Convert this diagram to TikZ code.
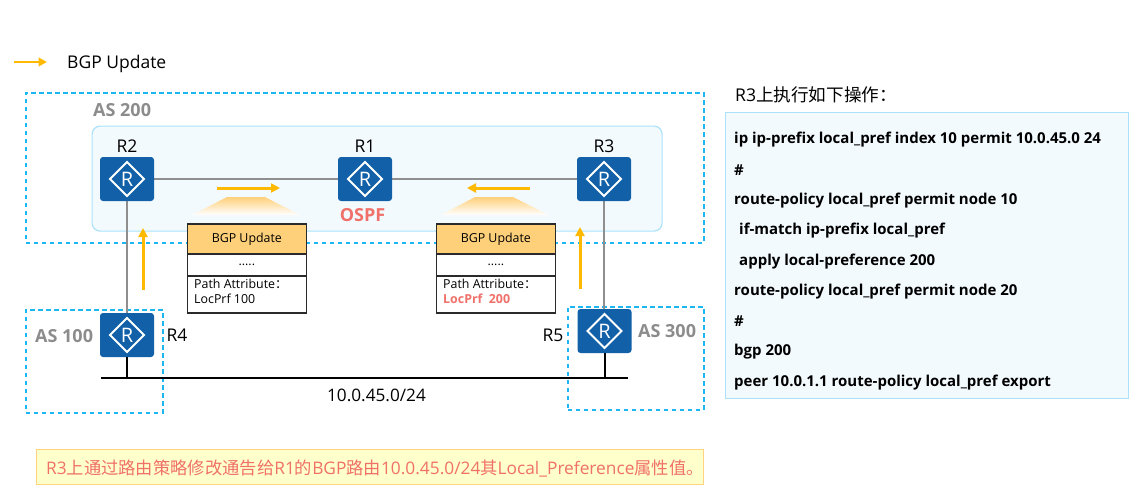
\documentclass[tikz,border=0pt]{standalone}
\usepackage{fontspec}
\setmainfont{Open Sans}
\newfontfamily\cjk{Noto Sans CJK SC}
\usetikzlibrary{arrows.meta}
\definecolor{routerblue}{HTML}{1160A8}
\definecolor{dashblue}{HTML}{1CB6F2}
\definecolor{panelfill}{HTML}{F3FAFE}
\definecolor{panelline}{HTML}{ABE2FA}
\definecolor{linkgrey}{HTML}{8F8F8F}
\definecolor{asgrey}{HTML}{8C8C8C}
\definecolor{flow}{HTML}{FFB900}
\definecolor{alert}{HTML}{F0706A}
\definecolor{header}{HTML}{FFD07A}
\definecolor{framedark}{HTML}{2A2A2A}
\definecolor{notefill}{HTML}{FFFFCC}
\definecolor{noteline}{HTML}{FFD27F}
\newcommand{\px}[1]{\fontsize{#1}{#1}\selectfont}
\tikzset{
  x=1pt,y=-1pt,
  router/.style={rectangle,rounded corners=3pt,fill=routerblue,minimum width=54pt,minimum height=44pt,inner sep=0pt,text=white,font=\px{20},
    path picture={\draw[white,line width=2.1pt,sharp corners,miter limit=10] ([xshift=-17pt]path picture bounding box.center) -- ([yshift=17pt]path picture bounding box.center) -- ([xshift=17pt]path picture bounding box.center) -- ([yshift=-17pt]path picture bounding box.center) -- cycle;}},
  tag/.style={inner sep=0pt,font=\px{17.5},yshift=-1pt},
  aslabel/.style={inner sep=0pt,font=\px{18}\bfseries,text=asgrey},
  asframe/.style={draw=dashblue,line width=1.5pt,dash pattern=on 4.5pt off 3.5pt},
  link/.style={draw=linkgrey,line width=2pt},
  stub/.style={draw=black,line width=2pt},
  flowarrow/.style={draw=flow,line width=3pt,-{Triangle[length=9pt,width=9pt]}},
  fieldbox/.style={draw=framedark,line width=1.7pt,minimum width=119pt,inner sep=0pt,font=\px{12.4},anchor=north west},
  cmd/.style={anchor=west,inner sep=0pt,font=\px{15}\bfseries,yshift=-1.5pt},
  beam/.style={top color=header,bottom color=white,draw=none},
}
\begin{document}
\begin{tikzpicture}
\useasboundingbox (0,0) rectangle (1144,499);
% legend
\coordinate (legA) at (14,62); \coordinate (legB) at (47,62);
\draw[flowarrow,line width=2.6pt,-{Triangle[length=8.5pt,width=8.5pt]}] (legA) -- (legB);
\node[tag,anchor=west] (legend) at (67,62.5) {BGP Update};

% autonomous systems
\node[asframe,minimum width=678pt,minimum height=150pt,inner sep=0pt,anchor=north west] (as200) at (25,92) {};
\node[asframe,minimum width=137pt,minimum height=103pt,inner sep=0pt,anchor=north west] (as100) at (25,309) {};
\node[asframe,minimum width=136pt,minimum height=103pt,inner sep=0pt,anchor=north west] (as300) at (567,306) {};
\node[draw=panelline,fill=panelfill,line width=1.2pt,rounded corners=8pt,minimum width=570pt,minimum height=105pt,inner sep=0pt,anchor=north west] (ospfarea) at (91.5,125.5) {};
\node[aslabel,anchor=west] (as200t) at (93,110) {AS 200};
\node[aslabel,anchor=west] (as100t) at (35,336) {AS 100};
\node[aslabel,anchor=west] (as300t) at (638,331) {AS 300};

% links
\coordinate (r2c) at (127,179); \coordinate (r1c) at (365,179); \coordinate (r3c) at (604,179);
\coordinate (r4c) at (127,335); \coordinate (r5c) at (604.5,331);
\draw[link] (r2c) -- (r1c);
\draw[link] (r1c) -- (r3c);
\draw[link] (r2c) -- (r4c);
\draw[link] (r3c) -- (r3c |- r5c);

% routers
\node[router] (r2) at (r2c) {R};
\node[router] (r1) at (r1c) {R};
\node[router] (r3) at (r3c) {R};
\node[router] (r4) at (r4c) {R};
\node[router] (r5) at (r5c) {R};
\node[tag] (r2t) at (127,145) {R2};
\node[tag] (r1t) at (365,145) {R1};
\node[tag] (r3t) at (604,145) {R3};
\node[tag] (r4t) at (177,334) {R4};
\node[tag] (r5t) at (553,334) {R5};

% shared segment
\coordinate (busL) at (101,378); \coordinate (busR) at (628,378);
\draw[stub] (busL) -- (busR);
\draw[stub] (r4.south) -- (r4.south |- busL);
\draw[stub] (r5.south) -- (r5.south |- busL);
\node[tag,font=\px{17.2}] (prefix) at (376.5,394) {10.0.45.0/24};

\node[aslabel,text=alert] (ospf) at (362.5,215) {OSPF};

% update flow
\coordinate (fa) at (217,188); \coordinate (fb) at (280,188);
\coordinate (fc) at (530,188); \coordinate (fd) at (467,188);
\coordinate (fe) at (143,290); \coordinate (ff) at (143,228);
\coordinate (fg) at (580,289); \coordinate (fh) at (580,227);
\draw[flowarrow] (fa) -- (fb);
\draw[flowarrow] (fc) -- (fd);
\draw[flowarrow] (fe) -- (ff);
\draw[flowarrow] (fg) -- (fh);

% light beams above the message boxes
\path[beam] (227,197) -- (265,197) -- (300,215) -- (192,215) -- cycle;
\path[beam] (475,197) -- (513,197) -- (549,215) -- (441,215) -- cycle;

% message boxes
\node[fieldbox,fill=header,minimum height=30pt] (m1a) at (186.5,223) {BGP Update};
\node[fieldbox,fill=white,minimum height=22pt] (m1b) at (186.5,253) {.....};
\node[fieldbox,fill=white,minimum height=37pt] (m1c) at (186.5,275) {};
\node[inner sep=0pt,anchor=north west,font=\px{12.4},align=left] (m1d) at (194,279) {Path Attribute{\cjk：}\\[2.5pt]LocPrf 100};
\node[fieldbox,fill=header,minimum height=30pt] (m2a) at (435.5,223) {BGP Update};
\node[fieldbox,fill=white,minimum height=22pt] (m2b) at (435.5,253) {.....};
\node[fieldbox,fill=white,minimum height=37pt] (m2c) at (435.5,275) {};
\node[inner sep=0pt,anchor=north west,font=\px{12.4},align=left] (m2d) at (443,279) {Path Attribute{\cjk：}\\[2.5pt]\textcolor{alert}{\bfseries LocPrf\ \ 200}};

% configuration panel
\node[tag,anchor=west,font=\px{17.6}] (cfgt) at (735,94) {R3{\cjk 上执行如下操作：}};
\node[draw=panelline,fill=panelfill,line width=1.2pt,minimum width=403pt,minimum height=286pt,inner sep=0pt,anchor=north west] (cfg) at (724.5,112) {};
\node[cmd] (c1) at (734,138) {ip ip-prefix local\_pref index 10 permit 10.0.45.0 24};
\node[cmd] (c2) at (734,168.5) {\#};
\node[cmd] (c3) at (734,199) {route-policy local\_pref permit node 10};
\node[cmd] (c4) at (739,229) {if-match ip-prefix local\_pref};
\node[cmd] (c5) at (739,260) {apply local-preference 200};
\node[cmd] (c6) at (734,290) {route-policy local\_pref permit node 20};
\node[cmd] (c7) at (734,320) {\#};
\node[cmd] (c8) at (734,350) {bgp 200};
\node[cmd] (c9) at (734,381) {peer 10.0.1.1 route-policy local\_pref export};

% summary note
\node[draw=noteline,fill=notefill,line width=1.2pt,minimum width=667pt,minimum height=35pt,inner sep=0pt,anchor=north west] (note) at (36,449) {};
\node[inner sep=0pt,anchor=west,font=\px{17.3},text=alert,yshift=-0.5pt] (notet) at (46,468) {R3{\cjk 上通过路由策略修改通告给}R1{\cjk 的}BGP{\cjk 路由}10.0.45.0/24{\cjk 其}Local\_Preference{\cjk 属性值。}};
\end{tikzpicture}
\end{document}
